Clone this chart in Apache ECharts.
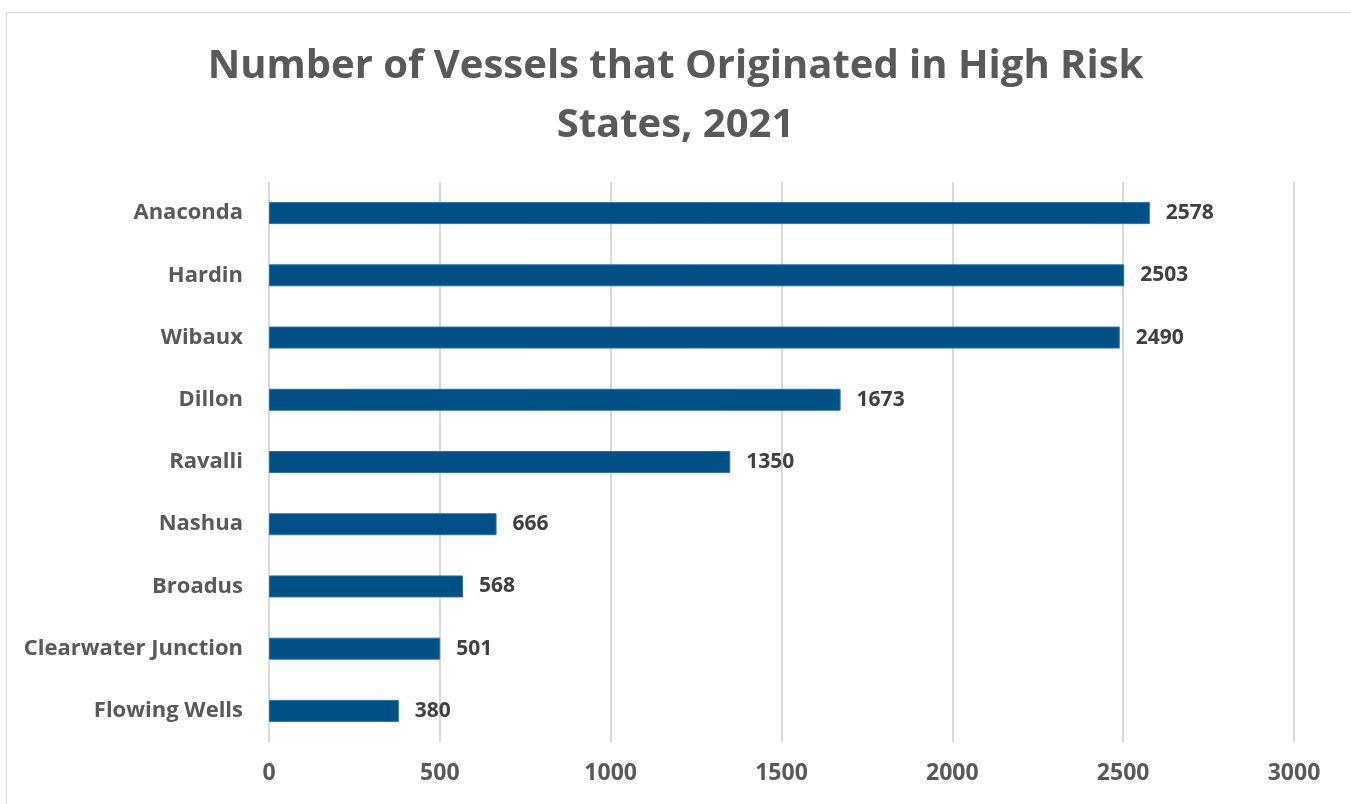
<!DOCTYPE html>
<html><head><meta charset="utf-8">
<script src="https://cdn.jsdelivr.net/npm/echarts@6/dist/echarts.min.js"></script>
<style>html,body{margin:0;padding:0;background:#fff;}#c{width:1351px;height:804px;}
#frame{position:absolute;left:6px;top:12px;width:1346px;height:800px;border:1.5px solid #d9d9d9;box-sizing:border-box;pointer-events:none;}</style>
</head><body><div id="c"></div><div id="frame"></div>
<script>
const categories = ["Anaconda","Hardin","Wibaux","Dillon","Ravalli","Nashua","Broadus","Clearwater Junction","Flowing Wells"];
const values = [2578,2503,2490,1673,1350,666,568,501,380];
const titleText = "Number of Vessels that Originated in High Risk\nStates, 2021";
const font = "'Open Sans', sans-serif";
const chart = echarts.init(document.getElementById('c'), null, {renderer:'canvas'});
chart.setOption({
  animation:false,
  title:{text:titleText,left:'center',top:32,textStyle:{fontFamily:font,fontSize:40,fontWeight:'bold',color:'#595959',lineHeight:59}},
  grid:{left:269,right:57,top:182,bottom:62},
  xAxis:{type:'value',min:0,max:3000,interval:500,
    axisLine:{show:false},axisTick:{show:false},
    splitLine:{lineStyle:{color:'#d9d9d9',width:2}},
    axisLabel:{fontFamily:font,fontSize:23,fontWeight:'bold',color:'#595959',margin:20,formatter:v=>String(v)}},
  yAxis:{type:'category',data:categories,inverse:true,
    axisLine:{show:false},axisTick:{show:false},
    axisLabel:{fontFamily:font,fontSize:22,fontWeight:'bold',color:'#595959',margin:26}},
  series:[{type:'bar',data:values,barWidth:22,
    itemStyle:{color:'#005088',borderColor:'#2e6fa0',borderWidth:1},
    label:{show:true,position:'right',distance:16,fontFamily:font,fontSize:21,fontWeight:'bold',color:'#404040'}}]
});
</script></body></html>
